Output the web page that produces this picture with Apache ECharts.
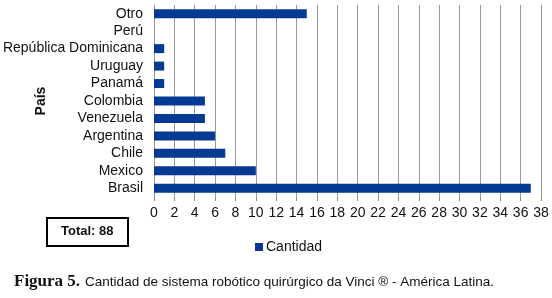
<!DOCTYPE html>
<html>
<head>
<meta charset="utf-8">
<script src="https://cdn.jsdelivr.net/npm/echarts@6/dist/echarts.min.js"></script>
<style>
  html, body { margin: 0; padding: 0; background: #fff; }
  #chart { width: 552px; height: 298px; }
</style>
</head>
<body>
<div id="chart"></div>
<script>
// categories bottom -> top, as ECharts draws them
var paises = ['Brasil', 'Mexico', 'Chile', 'Argentina', 'Venezuela', 'Colombia',
  'Panamá', 'Uruguay', 'República Dominicana', 'Perú', 'Otro']
var cantidad = [37, 10, 7, 6, 5, 5, 1, 1, 1, 0, 15]
var xMax = 38
var xStep = 2
var total = 88

var chart = echarts.init(document.getElementById('chart'))
var font = 'Liberation Sans'

chart.setOption({
  animation: false,
  textStyle: { fontFamily: font },
  title: [
    {
      text: 'Total: ' + total,
      left: 47,
      top: 218,
      padding: [7, 15, 8, 14],
      borderColor: '#000',
      borderWidth: 2,
      textStyle: { fontSize: 13, fontWeight: 'bold', color: '#111', fontFamily: font }
    },
    {
      text: '{b|Figura 5.} {n|Cantidad de sistema robótico quirúrgico da Vinci ® - América Latina.}',
      left: 14,
      top: 273,
      padding: 0,
      textStyle: {
        fontWeight: 'normal',
        rich: {
          b: { fontFamily: 'Liberation Serif', fontWeight: 'bold', fontSize: 17, color: '#111' },
          n: { fontFamily: font, fontWeight: 'normal', fontSize: 13.5, color: '#111' }
        }
      }
    }
  ],
  legend: {
    data: ['Cantidad'],
    left: 250,
    top: 235,
    icon: 'rect',
    itemWidth: 8,
    itemHeight: 8,
    itemGap: 4,
    textStyle: { fontSize: 14, color: '#111', padding: [0, 0, 0, -2] }
  },
  grid: {
    left: 154,
    right: 11,
    top: 5,
    bottom: 101,
    outerBoundsMode: 'none',
    containLabel: false
  },
  xAxis: {
    type: 'value',
    min: 0,
    max: xMax,
    interval: xStep,
    axisLine: { show: false },
    axisTick: { show: true, length: 4, lineStyle: { color: '#888' } },
    axisLabel: { fontSize: 14, color: '#111', margin: 9 },
    splitLine: { show: true, lineStyle: { color: '#999', width: 1 } }
  },
  yAxis: {
    type: 'category',
    data: paises,
    name: 'País',
    nameLocation: 'middle',
    nameGap: 106,
    nameRotate: 90,
    nameMoveOverlap: false,
    nameTextStyle: { fontSize: 14, fontWeight: 'bold', color: '#111' },
    axisLine: { show: true, lineStyle: { color: '#999' } },
    axisTick: { show: false },
    axisLabel: { fontSize: 14, color: '#111', margin: 11, interval: 0 }
  },
  series: [
    {
      name: 'Cantidad',
      type: 'bar',
      data: cantidad,
      barWidth: 9,
      itemStyle: { color: '#053a94' }
    }
  ]
})
</script>
</body>
</html>
